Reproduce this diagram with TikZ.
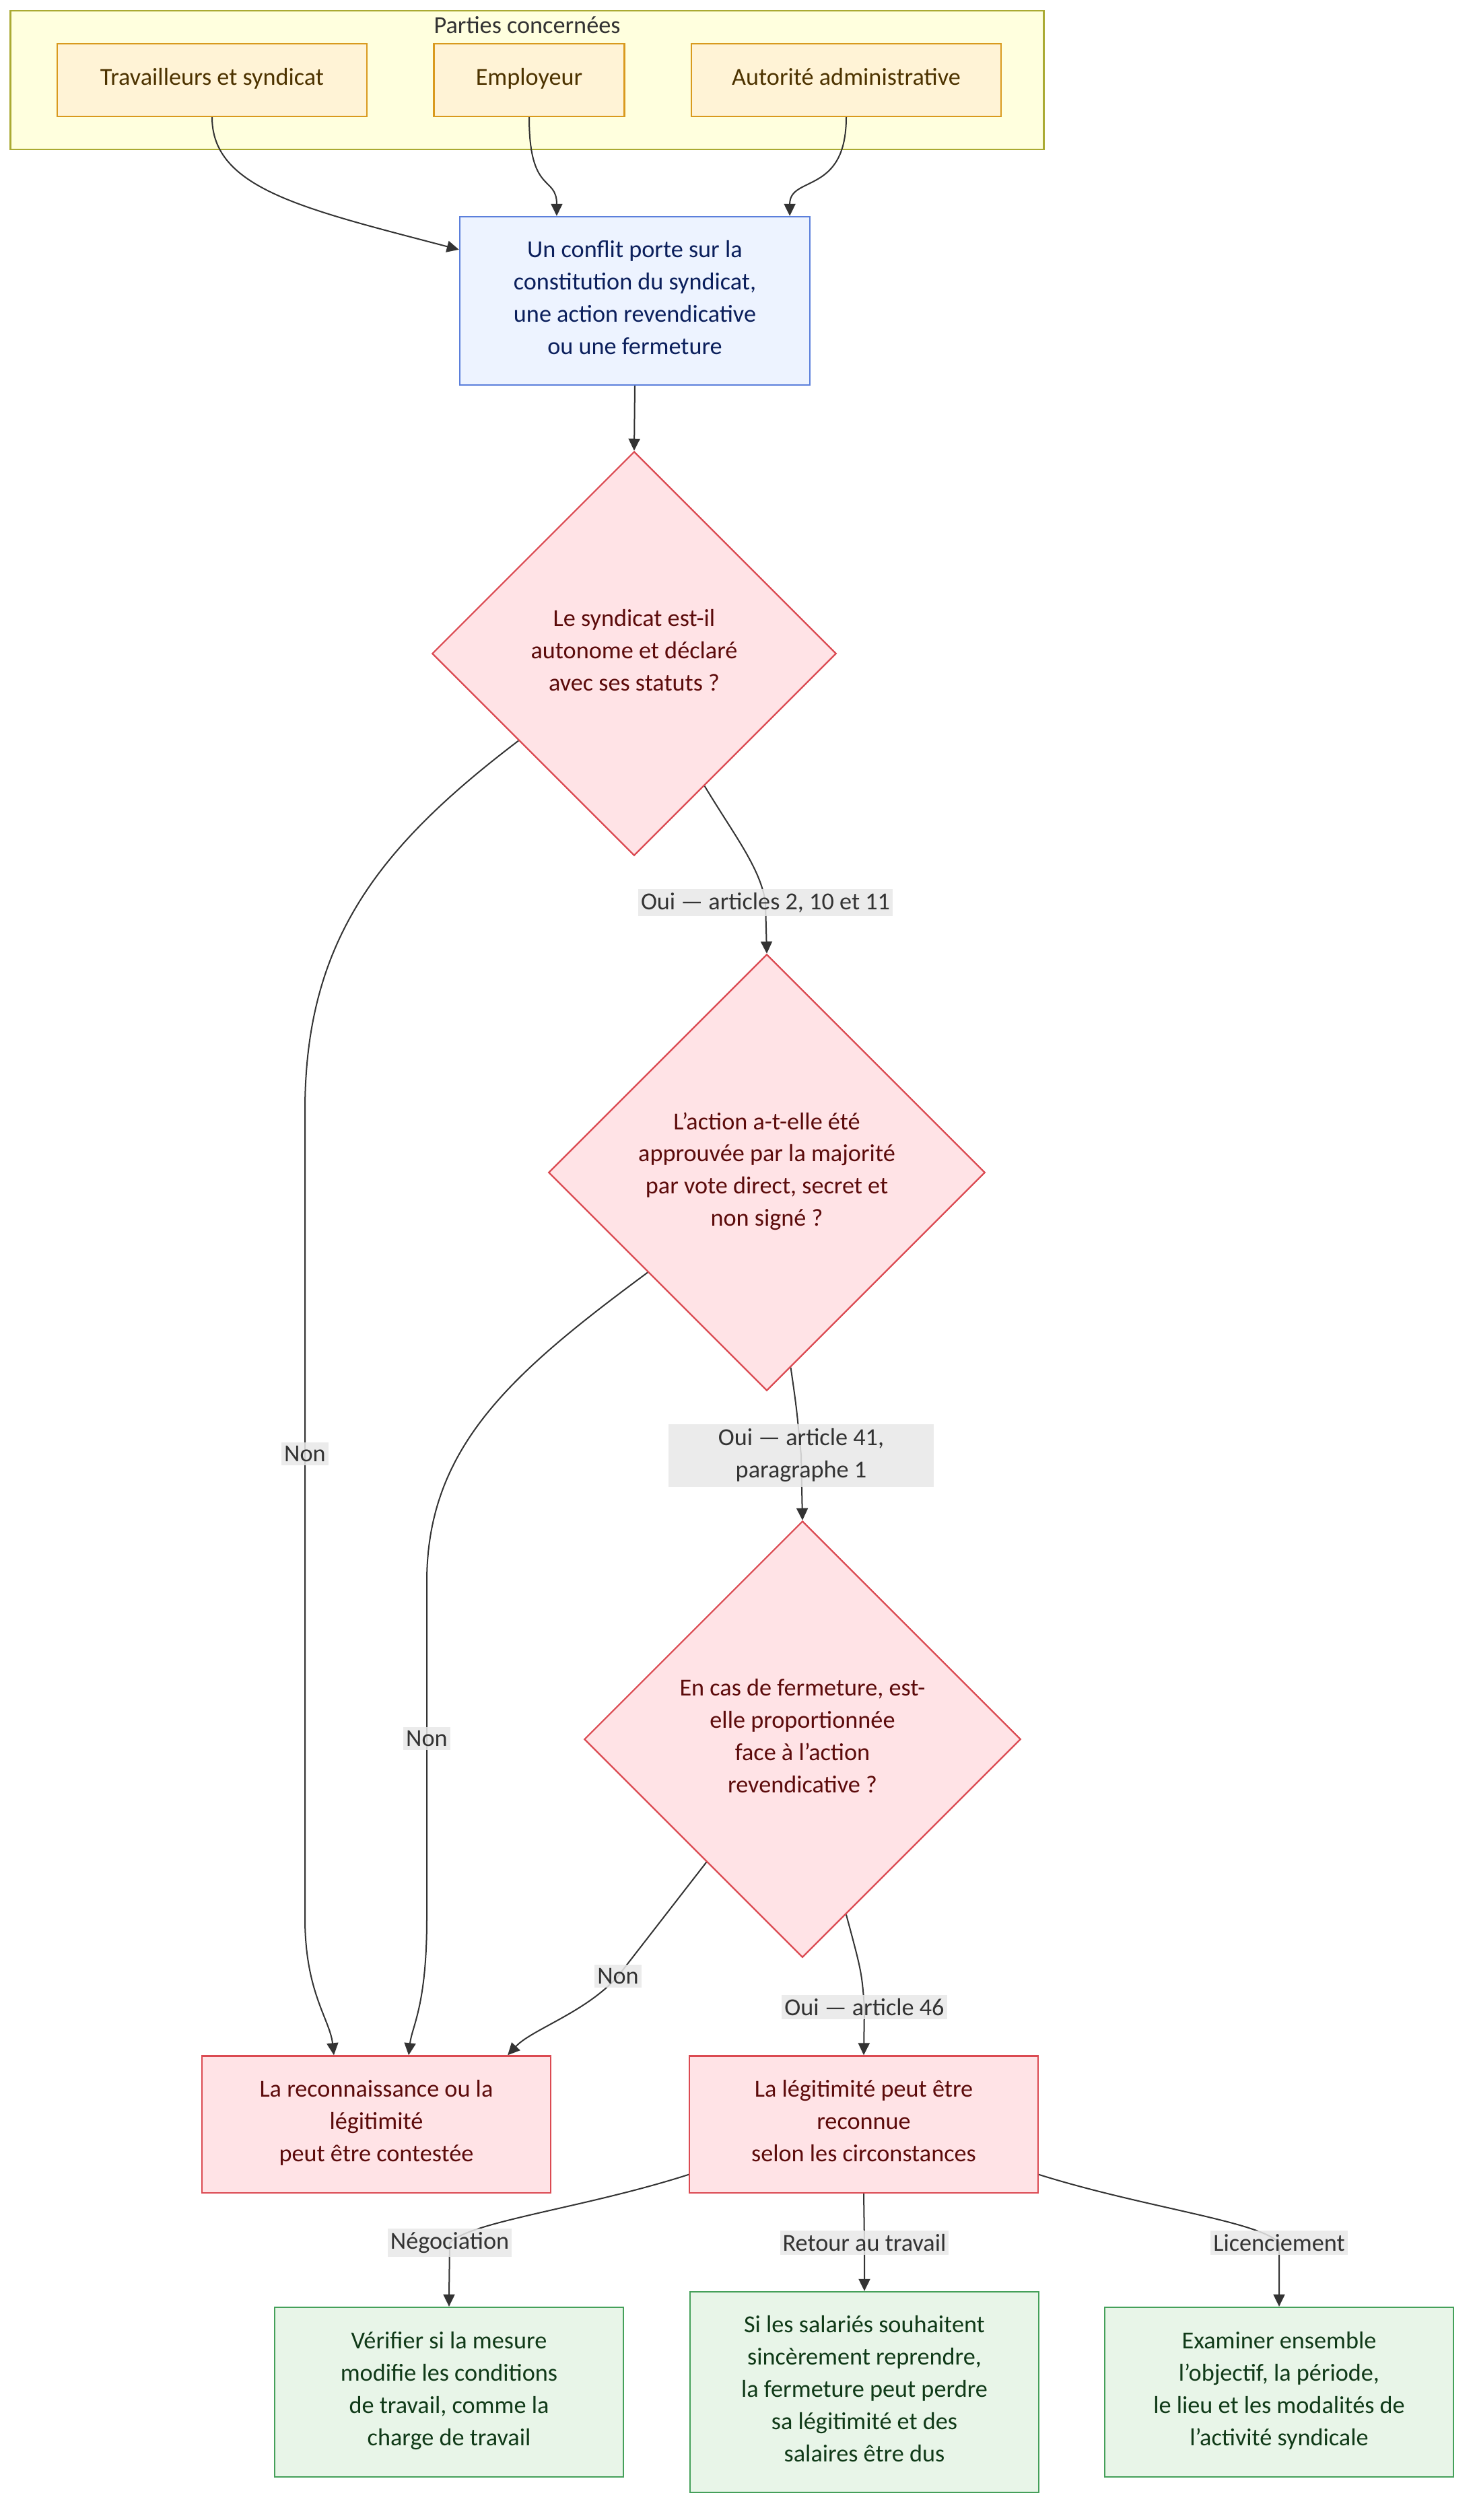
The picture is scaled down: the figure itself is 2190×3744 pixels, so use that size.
\documentclass[tikz,border=0pt]{standalone}
\usepackage{fontspec}
\setmainfont{Carlito}
\usetikzlibrary{arrows.meta,shapes.geometric}
\tikzset{>={Triangle[length=0.18cm,width=0.17cm]}}

\definecolor{clusterfill}{HTML}{FFFFDE}
\definecolor{clusterline}{HTML}{AAAA33}
\definecolor{partyfill}{HTML}{FFF3D6}
\definecolor{partyline}{HTML}{D99A1E}
\definecolor{partytext}{HTML}{4D3300}
\definecolor{conffill}{HTML}{EDF3FF}
\definecolor{confline}{HTML}{5B7FDB}
\definecolor{conftext}{HTML}{0B1F5C}
\definecolor{qfill}{HTML}{FFE3E6}
\definecolor{qline}{HTML}{DB4A52}
\definecolor{qtext}{HTML}{5C0B0B}
\definecolor{okfill}{HTML}{E8F5E8}
\definecolor{okline}{HTML}{45A05A}
\definecolor{oktext}{HTML}{103A18}
\definecolor{lblfill}{HTML}{E8E8E8}
\definecolor{ink}{HTML}{333333}

\pgfdeclarelayer{back}
\pgfdeclarelayer{edges}
\pgfsetlayers{back,edges,main}

\begin{document}
\begin{tikzpicture}[x=0.01cm,y=-0.01cm,
  font=\fontsize{10.3pt}{13.6pt}\selectfont,
  lift/.style={execute at end node={\rule[-0.1cm]{0pt}{0pt}}},
  box/.style={rectangle,line width=0.022cm,align=center,inner sep=0pt,lift},
  party/.style={box,fill=partyfill,draw=partyline,text=partytext,minimum height=1.08cm},
  conflict/.style={box,fill=conffill,draw=confline,text=conftext,minimum width=5.2cm,minimum height=2.5cm},
  question/.style={diamond,aspect=1,line width=0.022cm,fill=qfill,draw=qline,text=qtext,align=center,inner sep=0pt,lift},
  verdict/.style={box,fill=qfill,draw=qline,text=qtext,minimum width=5.17cm,minimum height=2.03cm},
  advice/.style={box,fill=okfill,draw=okline,text=oktext,minimum width=5.17cm},
  lbl/.style={fill=lblfill,fill opacity=0.85,text opacity=1,text=ink,align=center,inner xsep=0.04cm,inner ysep=0.05cm},
  edge/.style={->,draw=ink,line width=0.02cm}]
\useasboundingbox (0,0) rectangle (2190,3744);

% Parties
\begin{pgfonlayer}{back}
\node[rectangle,draw=clusterline,fill=clusterfill,line width=0.025cm,minimum width=15.34cm,minimum height=2.06cm] (cluster) at (783,119) {};
\end{pgfonlayer}
\node[text=ink] (clustertitle) at (783,37) {Parties concernées};
\node[party,minimum width=4.6cm] (trav) at (315,119) {Travailleurs et syndicat};
\node[party,minimum width=2.83cm] (emp) at (786,119) {Employeur};
\node[party,minimum width=4.6cm] (auth) at (1257,119) {Autorité administrative};

% Questions
\node[conflict] (conf) at (943,447) {Un conflit porte sur la\\constitution du syndicat,\\une action revendicative\\ou une fermeture};
\node[question,minimum width=6cm,minimum height=6cm] (d1) at (942,971) {Le syndicat est-il\\autonome et déclaré\\avec ses statuts ?};
\node[question,minimum width=6.48cm,minimum height=6.48cm] (d2) at (1139,1742) {L’action a-t-elle été\\approuvée par la majorité\\par vote direct, secret et\\non signé ?};
\node[question,minimum width=6.48cm,minimum height=6.48cm] (d3) at (1192,2584) {En cas de fermeture, est-\\elle proportionnée\\face à l’action\\revendicative ?};

% Results
\node[verdict] (rej) at (559,3156) {La reconnaissance ou la\\légitimité\\peut être contestée};
\node[verdict] (acc) at (1283,3156) {La légitimité peut être\\reconnue\\selon les circonstances};
\node[advice,minimum height=2.52cm] (neg) at (667,3554) {Vérifier si la mesure\\modifie les conditions\\de travail, comme la\\charge de travail};
\node[advice,minimum height=2.98cm] (ret) at (1284,3554) {Si les salariés souhaitent\\sincèrement reprendre,\\la fermeture peut perdre\\sa légitimité et des\\salaires être dus};
\node[advice,minimum height=2.52cm] (lic) at (1900,3554) {Examiner ensemble\\l’objectif, la période,\\le lieu et les modalités de\\l’activité syndicale};

% Edge labels
\node[lbl] (l1) at (1137,1341) {Oui — articles 2, 10 et 11};
\node[lbl,minimum width=3.94cm,minimum height=0.93cm] (l2) at (1190,2162) {Oui — article 41,\\paragraphe 1};
\node[lbl] (l3) at (1284,2982) {Oui — article 46};
\node[lbl] (n1) at (453,2160) {Non};
\node[lbl] (n2) at (634,2583) {Non};
\node[lbl] (n3) at (918,2936) {Non};
\node[lbl] (lneg) at (668,3332) {Négociation};
\node[lbl] (lret) at (1284,3332) {Retour au travail};
\node[lbl] (llic) at (1900,3332) {Licenciement};

\begin{pgfonlayer}{edges}
\draw[edge] (trav.south) .. controls (315,280) and (450,310) .. ([yshift=-0.5cm]conf.north west);
\draw[edge] (emp.south) .. controls (786,290) and (827,260) .. ([xshift=-1.16cm]conf.north);
\draw[edge] (auth.south) .. controls (1257,290) and (1173,260) .. ([xshift=2.3cm]conf.north);
\draw[edge] (conf.south) -- (d1.north);
\draw[edge] (d1.-62) .. controls (1090,1240) and (1130,1290) .. (l1.center) -- (d2.north);
\draw[edge] (d1.-143) .. controls (560,1260) and (453,1400) .. (453,1650) -- (n1.center) -- (453,2850) .. controls (453,2960) and (490,3000) .. ([xshift=-0.63cm]rej.north);
\draw[edge] (d2.-83) .. controls (1183,2090) .. (l2.center) -- (d3.north);
\draw[edge] (d2.-140) .. controls (760,2040) and (634,2150) .. (634,2350) -- (n2.center) -- (634,2850) .. controls (634,2980) and (612,3010) .. ([xshift=0.48cm]rej.north);
\draw[edge] (d3.-128) -- (n3.center) .. controls (870,2990) and (790,3015) .. ([xshift=1.95cm]rej.north);
\draw[edge] (d3.-76) .. controls (1280,2930) .. (l3.center) -- (acc.north);
\draw[edge] ([yshift=0.28cm]acc.south west) .. controls (870,3280) and (700,3300) .. (lneg.center) .. controls (667,3370) .. (neg.north);
\draw[edge] (acc.south) -- (lret.center) -- (ret.north);
\draw[edge] ([yshift=0.28cm]acc.south east) .. controls (1700,3280) and (1870,3300) .. (llic.center) .. controls (1900,3370) .. (lic.north);
\end{pgfonlayer}
\end{tikzpicture}
\end{document}
